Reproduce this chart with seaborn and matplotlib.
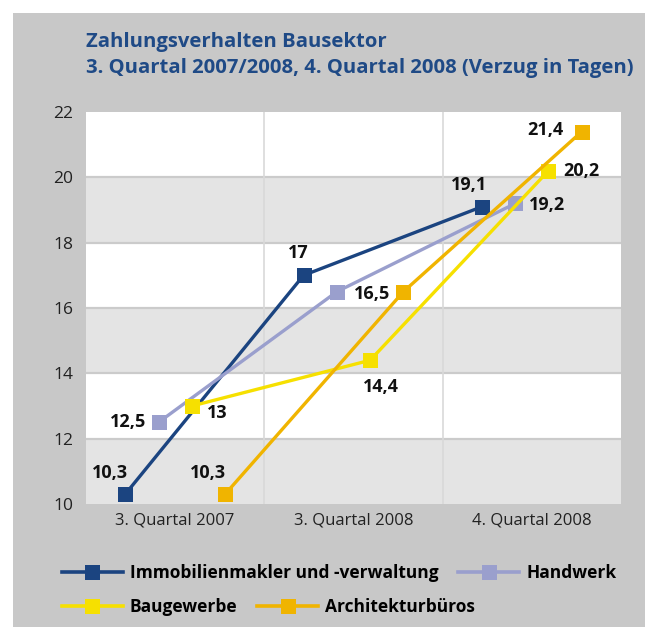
import matplotlib
matplotlib.use("Agg")
import matplotlib.pyplot as plt
import seaborn as sns
import pandas as pd
import numpy as np
from matplotlib.patches import Rectangle
from matplotlib.lines import Line2D

# ---- data ----
categories = ["3. Quartal 2007", "3. Quartal 2008", "4. Quartal 2008"]
series_names = ["Immobilienmakler und -verwaltung", "Handwerk", "Baugewerbe", "Architekturbüros"]
immobilien = [10.3, 17.0, 19.1]
handwerk = [12.5, 16.5, 19.2]
baugewerbe = [13.0, 14.4, 20.2]
architektur = [10.3, 16.5, 21.4]
labels_immobilien = ["10,3", "17", "19,1"]
labels_handwerk = ["12,5", "16,5", "19,2"]
labels_baugewerbe = ["13", "14,4", "20,2"]
labels_architektur = ["10,3", None, "21,4"]
y_ticks = [10, 12, 14, 16, 18, 20, 22]
title_lines = ["Zahlungsverhalten Bausektor",
               "3. Quartal 2007/2008, 4. Quartal 2008 (Verzug in Tagen)"]

# ---- styles ----
colors = ["#1b4480", "#9a9fcd", "#f6e000", "#f0b400"]
dodge = [-0.28, -0.093, 0.093, 0.28]
# label offsets in points (dx, dy) per series per category
label_offsets = [
    [(-11, 15), (-4, 16), (-9, 16)],
    [(-22, 0), (25, -2), (23, -1)],
    [(18, -5), (8, -19), (24, 0)],
    [(-12, 15), (0, 0), (-26, 1)],
]

plt.rcParams["font.family"] = ["Open Sans", "DejaVu Sans"]

values = [immobilien, handwerk, baugewerbe, architektur]
labels = [labels_immobilien, labels_handwerk, labels_baugewerbe, labels_architektur]
rows = []
for s, (name, vals) in enumerate(zip(series_names, values)):
    for c, v in enumerate(vals):
        rows.append({"series": name, "pos": c + dodge[s], "value": v})
df = pd.DataFrame(rows)

W, H = 645, 627
fig = plt.figure(figsize=(W / 100, H / 100), dpi=100, facecolor="white")
fig.patches.append(Rectangle((13 / W, 0), 1 - 13 / W, 1 - 13 / H,
                             transform=fig.transFigure, facecolor="#c8c8c8",
                             edgecolor="none", zorder=-10))

ax = fig.add_axes([86 / W, 1 - 504 / H, (621 - 86) / W, (504 - 112) / H])
ax.set_facecolor("white")
for lo in (10, 14, 18):
    ax.axhspan(lo, lo + 2, color="#e4e4e4", zorder=0, lw=0)
for y in y_ticks[1:-1]:
    ax.axhline(y, color="#cbcbcb", lw=1.6, zorder=0.5)
for xb in (0.5, 1.5):
    ax.axvline(xb, color="#d9d9d9", lw=1.2, zorder=0.5)

sns.lineplot(data=df, x="pos", y="value", hue="series", hue_order=series_names,
             palette=colors, marker="s", markersize=10.8, markeredgewidth=0,
             linewidth=2.4, ax=ax, legend=False, zorder=3)
for line in ax.lines[-4:]:
    line.set_clip_on(False)

for s in range(4):
    for c in range(3):
        lab = labels[s][c]
        if lab is None:
            continue
        dx, dy = label_offsets[s][c]
        ax.annotate(lab, (c + dodge[s], values[s][c]), xytext=(dx, dy),
                    textcoords="offset points", ha="center", va="center",
                    fontsize=13, fontweight="bold", color="#111111", zorder=5)

ax.set_xlim(-0.5, 2.5)
ax.set_ylim(10, 22)
ax.set_xticks(range(3))
ax.set_xticklabels(categories)
ax.set_yticks(y_ticks)
ax.set_yticklabels([str(t) for t in y_ticks])
ax.tick_params(axis="x", length=0, labelsize=12, colors="#222222", pad=6)
ax.tick_params(axis="y", length=0, labelsize=12.5, colors="#222222", pad=9)
ax.set_xlabel("")
ax.set_ylabel("")
for sp in ax.spines.values():
    sp.set_visible(False)

fig.text(86 / W, 1 - 42 / H, title_lines[0], fontsize=14.6, fontweight="bold",
         color="#1f4a86", va="center", ha="left")
fig.text(86 / W, 1 - 68 / H, title_lines[1], fontsize=14.6, fontweight="bold",
         color="#1f4a86", va="center", ha="left")

def handles(idx):
    return [Line2D([], [], color=colors[i], lw=2.6, marker="s", markersize=10.8,
                   markeredgewidth=0) for i in idx]

common = dict(frameon=False, ncol=2, handlelength=3.5, handletextpad=0.4,
              columnspacing=1.15, prop={"size": 12.5, "weight": "bold"},
              loc="center left", borderaxespad=0, borderpad=0)
leg1 = fig.legend(handles([0, 1]), [series_names[0], series_names[1]],
                  bbox_to_anchor=(62 / W, 1 - 573 / H), **common)
leg2 = fig.legend(handles([2, 3]), [series_names[2], series_names[3]],
                  bbox_to_anchor=(62 / W, 1 - 607 / H), **common)

fig.savefig("out.png", dpi=100, facecolor="white")
